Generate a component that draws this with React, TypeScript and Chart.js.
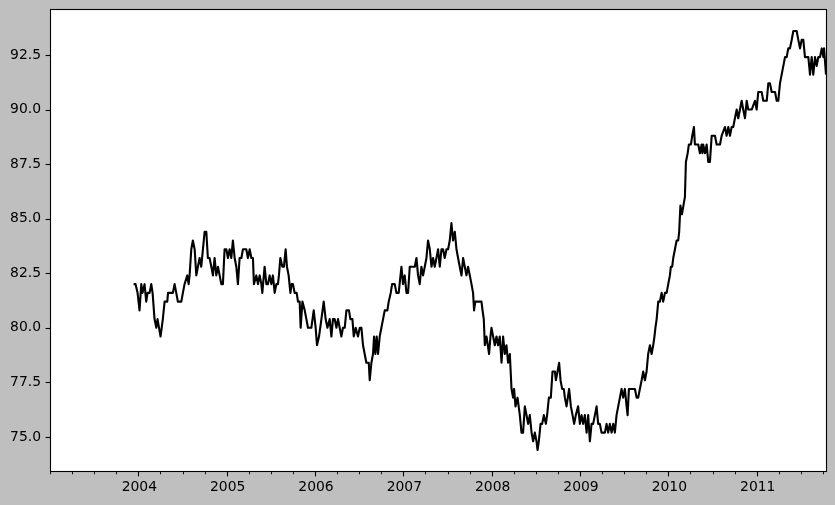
import React, { useEffect, useRef } from 'react';
import { Chart, registerables } from 'chart.js';

Chart.register(...registerables);

// Dates as decimal years
const dates2004 = [2003.935, 2003.957, 2003.980, 2004.002, 2004.022, 2004.036, 2004.059, 2004.078, 2004.093, 2004.116,
  2004.135, 2004.150, 2004.172, 2004.192, 2004.206, 2004.223, 2004.240, 2004.266, 2004.286, 2004.316,
  2004.325, 2004.380, 2004.399, 2004.418, 2004.436, 2004.475, 2004.493, 2004.512, 2004.543, 2004.558,
  2004.569, 2004.588, 2004.606, 2004.626, 2004.645, 2004.663, 2004.682, 2004.701, 2004.720, 2004.739,
  2004.758, 2004.776, 2004.795, 2004.815, 2004.833, 2004.852, 2004.871, 2004.890, 2004.909, 2004.928,
  2004.946, 2004.965, 2004.985];
const values2004 = [82.0, 82.0, 81.6, 80.8, 82.0, 81.6, 82.0, 81.2, 81.6, 81.6,
  82.0, 81.6, 80.4, 80.0, 80.4, 80.0, 79.6, 80.4, 81.2, 81.2,
  81.6, 81.6, 82.0, 81.6, 81.2, 81.2, 81.6, 82.0, 82.4, 82.0,
  82.4, 83.6, 84.0, 83.6, 82.4, 82.8, 83.2, 82.8, 83.6, 84.4,
  84.4, 83.2, 83.2, 82.8, 82.4, 83.2, 82.4, 82.8, 82.4, 82.0,
  82.0, 83.6, 83.6];

const dates2005 = [2005.003, 2005.022, 2005.041, 2005.059, 2005.079, 2005.098, 2005.116, 2005.135, 2005.155, 2005.173,
  2005.211, 2005.229, 2005.249, 2005.268, 2005.286, 2005.297, 2005.324, 2005.343, 2005.362, 2005.381,
  2005.392, 2005.418, 2005.438, 2005.456, 2005.475, 2005.494, 2005.512, 2005.532, 2005.551, 2005.569,
  2005.580, 2005.596, 2005.619, 2005.637, 2005.656, 2005.671, 2005.690, 2005.710, 2005.724, 2005.739,
  2005.758, 2005.781, 2005.796, 2005.815, 2005.826, 2005.846, 2005.872, 2005.891, 2005.909, 2005.947,
  2005.974, 2005.996];
const values2005 = [83.2, 83.6, 83.2, 84.0, 83.2, 82.8, 82.0, 83.2, 83.2, 83.6,
  83.6, 83.2, 83.6, 83.2, 83.2, 82.0, 82.4, 82.0, 82.4, 82.0,
  81.6, 82.8, 82.0, 82.0, 82.4, 82.0, 82.4, 81.6, 82.0, 82.0,
  82.4, 83.2, 82.8, 82.8, 83.6, 82.8, 82.4, 81.6, 82.0, 82.0,
  81.6, 81.6, 81.2, 81.2, 80.0, 81.2, 80.8, 80.4, 80.0, 80.0,
  80.8, 80.0];

const dates2006 = [2006.011, 2006.034, 2006.061, 2006.087, 2006.109, 2006.129, 2006.155, 2006.174, 2006.192, 2006.211,
  2006.231, 2006.249, 2006.268, 2006.287, 2006.305, 2006.325, 2006.344, 2006.373, 2006.389, 2006.412,
  2006.427, 2006.449, 2006.475, 2006.495, 2006.514, 2006.532, 2006.551, 2006.570, 2006.597, 2006.608,
  2006.627, 2006.645, 2006.657, 2006.672, 2006.687, 2006.702, 2006.721, 2006.740, 2006.759, 2006.778,
  2006.808, 2006.823, 2006.846, 2006.861, 2006.891, 2006.910, 2006.936, 2006.967, 2006.985];
const values2006 = [79.2, 79.6, 80.4, 81.2, 80.4, 80.0, 80.4, 79.6, 80.4, 80.4,
  80.0, 80.4, 80.0, 79.6, 80.0, 80.0, 80.8, 80.8, 80.4, 80.4,
  79.6, 80.0, 79.6, 80.0, 80.0, 79.2, 78.8, 78.4, 78.4, 77.6,
  78.4, 78.8, 79.6, 78.8, 79.6, 78.8, 79.6, 80.0, 80.4, 80.8,
  80.8, 81.2, 81.6, 82.0, 82.0, 81.6, 81.6, 82.8, 82.0];

const dates2007 = [2007.004, 2007.024, 2007.042, 2007.061, 2007.118, 2007.137, 2007.155, 2007.174, 2007.193, 2007.212,
  2007.231, 2007.250, 2007.268, 2007.288, 2007.307, 2007.325, 2007.344, 2007.363, 2007.382, 2007.401,
  2007.420, 2007.438, 2007.457, 2007.477, 2007.495, 2007.514, 2007.533, 2007.551, 2007.571, 2007.590,
  2007.608, 2007.627, 2007.647, 2007.665, 2007.684, 2007.703, 2007.721, 2007.741, 2007.760, 2007.778,
  2007.789, 2007.803, 2007.873, 2007.885, 2007.899, 2007.911, 2007.930, 2007.945, 2007.959, 2007.975,
  2007.986];
const values2007 = [82.4, 81.6, 81.6, 82.8, 82.8, 83.2, 82.4, 82.0, 82.8, 82.4,
  82.8, 83.2, 84.0, 83.6, 82.8, 83.2, 82.8, 83.2, 83.6, 82.8,
  83.6, 83.6, 83.2, 83.6, 83.6, 84.0, 84.8, 84.0, 84.4, 83.6,
  83.2, 82.8, 82.4, 83.2, 82.8, 82.4, 82.8, 82.4, 82.0, 81.6,
  80.8, 81.2, 81.2, 80.8, 80.4, 79.2, 79.6, 79.2, 78.8, 79.6,
  80.0];

const dates2008 = [2008.005, 2008.024, 2008.043, 2008.061, 2008.080, 2008.100, 2008.118, 2008.137, 2008.156, 2008.174,
  2008.194, 2008.213, 2008.231, 2008.242, 2008.258, 2008.281, 2008.307, 2008.326, 2008.344, 2008.364,
  2008.383, 2008.401, 2008.420, 2008.440, 2008.458, 2008.477, 2008.496, 2008.508, 2008.522, 2008.542,
  2008.560, 2008.579, 2008.602, 2008.616, 2008.636, 2008.658, 2008.677, 2008.704, 2008.715, 2008.734,
  2008.752, 2008.768, 2008.786, 2008.805, 2008.817, 2008.836, 2008.865, 2008.885, 2008.904, 2008.922,
  2008.941, 2008.967, 2008.987];
const values2008 = [79.6, 79.2, 79.6, 79.2, 79.6, 78.4, 79.6, 78.8, 79.2, 78.4,
  78.8, 77.2, 76.8, 77.2, 76.4, 76.8, 76.0, 75.2, 75.2, 76.4,
  76.0, 75.6, 76.0, 75.2, 74.8, 75.2, 74.8, 74.4, 74.8, 75.6,
  75.6, 76.0, 75.6, 76.0, 76.8, 76.8, 78.0, 78.0, 77.6, 78.0,
  78.4, 77.6, 77.2, 77.2, 76.8, 76.4, 77.2, 76.4, 76.0, 75.6,
  76.0, 76.4, 75.6];

const dates2009 = [2009.006, 2009.024, 2009.043, 2009.063, 2009.081, 2009.100, 2009.119, 2009.137, 2009.157, 2009.176,
  2009.194, 2009.213, 2009.232, 2009.270, 2009.289, 2009.307, 2009.326, 2009.346, 2009.364, 2009.383,
  2009.402, 2009.421, 2009.440, 2009.459, 2009.477, 2009.496, 2009.516, 2009.527, 2009.542, 2009.610,
  2009.629, 2009.647, 2009.666, 2009.686, 2009.704, 2009.723, 2009.742, 2009.760, 2009.780, 2009.799,
  2009.817, 2009.831, 2009.842, 2009.856, 2009.874, 2009.893, 2009.912, 2009.930, 2009.950, 2009.969,
  2009.987];
const values2009 = [76.0, 75.6, 76.0, 75.2, 76.0, 74.8, 75.6, 75.6, 76.0, 76.4,
  75.6, 75.6, 75.2, 75.2, 75.6, 75.2, 75.6, 75.2, 75.6, 75.2,
  76.0, 76.4, 76.8, 77.2, 76.8, 77.2, 76.4, 76.0, 77.2, 77.2,
  76.8, 76.8, 77.2, 77.6, 78.0, 77.6, 78.0, 78.8, 79.2, 78.8,
  79.2, 79.6, 80.0, 80.4, 81.2, 81.2, 81.6, 81.2, 81.6, 81.6,
  82.0];

const dates2010 = [2010.006, 2010.017, 2010.032, 2010.044, 2010.063, 2010.082, 2010.100, 2010.111, 2010.125, 2010.142,
  2010.159, 2010.176, 2010.187, 2010.207, 2010.221, 2010.244, 2010.259, 2010.278, 2010.289, 2010.327,
  2010.346, 2010.365, 2010.374, 2010.383, 2010.403, 2010.422, 2010.440, 2010.459, 2010.479, 2010.516,
  2010.535, 2010.573, 2010.592, 2010.629, 2010.648, 2010.667, 2010.686, 2010.705, 2010.723, 2010.742,
  2010.762, 2010.780, 2010.799, 2010.818, 2010.836, 2010.856, 2010.875, 2010.893, 2010.932, 2010.969,
  2010.988];
const values2010 = [82.4, 82.8, 82.8, 83.2, 83.6, 84.0, 84.0, 84.4, 85.6, 85.2,
  85.6, 86.0, 87.6, 88.0, 88.4, 88.4, 88.8, 89.2, 88.4, 88.4,
  88.0, 88.4, 88.0, 88.4, 88.0, 88.4, 87.6, 87.6, 88.8, 88.8,
  88.4, 88.4, 88.8, 89.2, 88.8, 89.2, 88.8, 89.2, 89.2, 89.6,
  90.0, 89.6, 90.0, 90.4, 90.0, 89.6, 90.4, 90.0, 90.0, 90.4,
  90.0];

const dates2011 = [2011.006, 2011.045, 2011.063, 2011.102, 2011.120, 2011.139, 2011.158, 2011.196, 2011.215, 2011.233,
  2011.252, 2011.271, 2011.290, 2011.309, 2011.328, 2011.346, 2011.365, 2011.385, 2011.403, 2011.441,
  2011.459, 2011.479, 2011.498, 2011.516, 2011.535, 2011.573, 2011.592, 2011.611, 2011.629, 2011.649,
  2011.668, 2011.686, 2011.705, 2011.725, 2011.743, 2011.751, 2011.773];
const values2011 = [90.8, 90.8, 90.4, 90.4, 91.2, 91.2, 90.8, 90.8, 90.4, 90.4,
  91.2, 91.6, 92.0, 92.4, 92.4, 92.8, 92.8, 93.2, 93.6, 93.6,
  93.2, 92.8, 93.2, 93.2, 92.4, 92.4, 91.6, 92.4, 91.6, 92.4,
  92.0, 92.4, 92.4, 92.8, 92.4, 92.8, 91.6];

const xYearTicks = [2004, 2005, 2006, 2007, 2008, 2009, 2010, 2011];
const yTickValues = [75.0, 77.5, 80.0, 82.5, 85.0, 87.5, 90.0, 92.5];

const X_MIN = 2003.0;
const X_MAX = 2011.773;
const Y_MIN = 73.44;
const Y_MAX = 94.56;

const segments: [number[], number[]][] = [
  [dates2004, values2004],
  [dates2005, values2005],
  [dates2006, values2006],
  [dates2007, values2007],
  [dates2008, values2008],
  [dates2009, values2009],
  [dates2010, values2010],
  [dates2011, values2011],
];

function buildPoints() {
  const pts: { x: number; y: number }[] = [];
  for (const [d, v] of segments) {
    const n = Math.min(d.length, v.length);
    for (let i = 0; i < n; i++) pts.push({ x: d[i], y: v[i] });
  }
  return pts;
}

const FONT = { family: '"DejaVu Sans", sans-serif', size: 13.9 };

const framePlugin = {
  id: 'mplFrame',
  beforeDraw(chart: any) {
    const { ctx, chartArea } = chart;
    const { left, top, right, bottom } = chartArea;
    ctx.save();
    ctx.fillStyle = '#ffffff';
    ctx.fillRect(left, top, right - left, bottom - top);
    ctx.restore();
  },
  afterDraw(chart: any) {
    const { ctx, chartArea } = chart;
    const { left, top, right, bottom } = chartArea;
    const xs = chart.scales.x;
    const ys = chart.scales.y;
    ctx.save();
    ctx.strokeStyle = '#000000';
    ctx.lineWidth = 1.1;
    ctx.strokeRect(left - 0.5, top - 0.5, right - left + 1, bottom - top + 1);

    // x minor ticks (quarterly)
    ctx.lineWidth = 0.9;
    for (let y = 2003; y <= 2012; y++) {
      for (const q of [0, 0.25, 0.5, 0.75]) {
        const v = y + q;
        if (v < X_MIN - 1e-6 || v > X_MAX + 1e-6) continue;
        if (q === 0 && xYearTicks.includes(y)) continue;
        const px = Math.round(xs.getPixelForValue(v)) - 0.5;
        ctx.beginPath();
        ctx.moveTo(px, bottom + 0.5);
        ctx.lineTo(px, bottom + 3.3);
        ctx.stroke();
      }
    }
    // x major ticks
    ctx.lineWidth = 1.1;
    for (const v of xYearTicks) {
      const px = Math.round(xs.getPixelForValue(v)) - 0.5;
      ctx.beginPath();
      ctx.moveTo(px, bottom + 0.5);
      ctx.lineTo(px, bottom + 5.4);
      ctx.stroke();
    }
    // y major ticks
    for (const v of yTickValues) {
      const py = Math.round(ys.getPixelForValue(v)) + 0.5;
      ctx.beginPath();
      ctx.moveTo(left - 0.5, py);
      ctx.lineTo(left - 5.4, py);
      ctx.stroke();
    }
    ctx.restore();
  },
};

export default function App() {
  const canvasRef = useRef<HTMLCanvasElement | null>(null);

  useEffect(() => {
    const canvas = canvasRef.current;
    if (!canvas) return;
    const chart = new Chart(canvas, {
      type: 'line',
      data: {
        datasets: [
          {
            data: buildPoints(),
            borderColor: '#000000',
            borderWidth: 2.1,
            pointRadius: 0,
            pointHoverRadius: 0,
            tension: 0,
            fill: false,
            borderJoinStyle: 'round',
            borderCapStyle: 'butt',
          },
        ],
      },
      options: {
        responsive: false,
        animation: false,
        events: [],
        parsing: false,
        normalized: true,
        layout: { padding: { top: 10, right: 9, left: 0, bottom: 0 } },
        plugins: { legend: { display: false }, tooltip: { enabled: false }, title: { display: false } },
        scales: {
          x: {
            type: 'linear',
            min: X_MIN,
            max: X_MAX,
            grid: { display: false, drawTicks: false },
            border: { display: false },
            afterBuildTicks: (scale: any) => {
              scale.ticks = xYearTicks.map((v) => ({ value: v }));
            },
            afterFit: (scale: any) => {
              scale.height = 34;
              scale.paddingLeft = 0;
              scale.paddingRight = 0;
            },
            ticks: {
              autoSkip: false,
              maxRotation: 0,
              minRotation: 0,
              color: '#000000',
              font: FONT,
              padding: 8,
              callback: (v: any) => String(v),
            },
          },
          y: {
            type: 'linear',
            min: Y_MIN,
            max: Y_MAX,
            grid: { display: false, drawTicks: false },
            border: { display: false },
            afterBuildTicks: (scale: any) => {
              scale.ticks = yTickValues.map((v) => ({ value: v }));
            },
            afterFit: (scale: any) => {
              scale.width = 51;
              scale.paddingTop = 0;
              scale.paddingBottom = 0;
            },
            ticks: {
              autoSkip: false,
              color: '#000000',
              font: FONT,
              padding: 10,
              callback: (v: any) => Number(v).toFixed(1),
            },
          },
        },
      },
      plugins: [framePlugin],
    });
    return () => chart.destroy();
  }, []);

  return (
    <div
      style={{
        position: 'fixed',
        left: 0,
        top: 0,
        width: 835,
        height: 505,
        background: '#bfbfbf',
      }}
    >
      <canvas ref={canvasRef} width={835} height={505} style={{ display: 'block', width: 835, height: 505 }} />
    </div>
  );
}
